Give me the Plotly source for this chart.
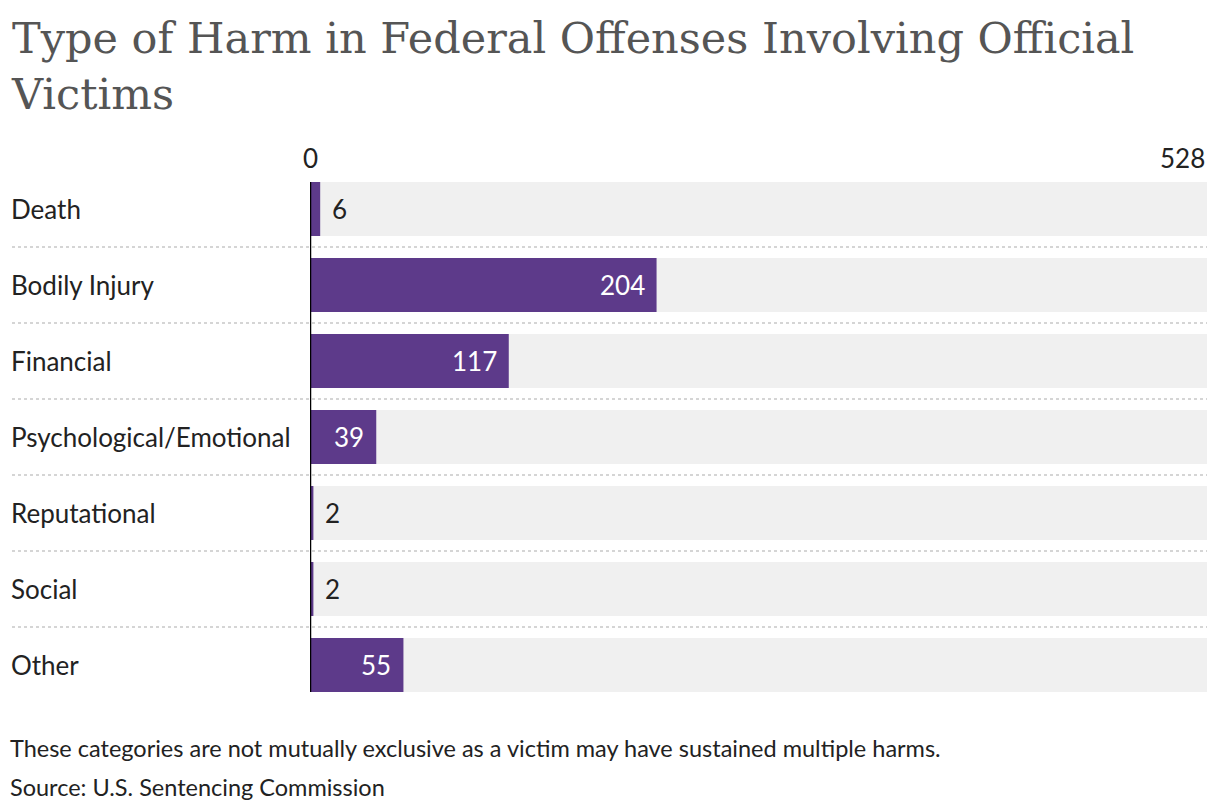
import plotly.graph_objects as go

# data
categories = ["Death", "Bodily Injury", "Financial", "Psychological/Emotional",
              "Reputational", "Social", "Other"]
values = [6, 204, 117, 39, 2, 2, 55]
axis_max = 528
tick_vals = [0, 528]

title = "Type of Harm in Federal Offenses Involving Official<br>Victims"
note = "These categories are not mutually exclusive as a victim may have sustained multiple harms."
source = "Source: U.S. Sentencing Commission"

W, H = 1220, 812
PLOT_TOP, PLOT_BOT = 182, 692
PURPLE = "#5d3a8a"
FONT = "Lato"
ys = list(range(len(categories)))


def py(p):
    # pixel row -> paper y
    return (PLOT_BOT - p) / (PLOT_BOT - PLOT_TOP)


# small bars get their label outside, bigger ones inside
inside_min = 30

fig = go.Figure()

# grey track behind each bar
fig.add_trace(go.Bar(
    x=[axis_max] * len(categories), y=ys, orientation="h",
    marker=dict(color="#f0f0f0", line=dict(width=0)),
    width=0.71, hoverinfo="skip", showlegend=False,
))

fig.add_trace(go.Bar(
    x=values, y=ys, orientation="h",
    marker=dict(color=PURPLE, line=dict(width=0)),
    width=0.71, showlegend=False,
))

# value labels
for y, v in zip(ys, values):
    inside = v >= inside_min
    fig.add_annotation(x=v, xref="x", y=y, yref="y", text=str(v), showarrow=False,
                       xanchor="right" if inside else "left",
                       xshift=-10 if inside else 10,
                       font=dict(family=FONT, size=26,
                                 color="white" if inside else "#222222"))

# category labels on the left
for y, c in zip(ys, categories):
    fig.add_annotation(x=9 / W, xref="paper", y=y, yref="y", text=c,
                       showarrow=False, xanchor="left",
                       font=dict(family=FONT, size=26, color="#222222"))

# dotted separators between rows
for y in ys[:-1]:
    fig.add_shape(type="line", xref="paper", yref="y",
                  x0=12 / W, x1=1207 / W, y0=y + 0.5, y1=y + 0.5,
                  line=dict(color="#c8c8c8", width=1.5, dash="dot"), layer="below")

# zero line
fig.add_shape(type="line", xref="x", yref="paper", x0=0, x1=0, y0=0, y1=1,
              line=dict(color="#000000", width=2.5))

# top tick labels
for v in tick_vals:
    fig.add_annotation(x=v, xref="x", y=py(158), yref="paper", text=str(v),
                       showarrow=False, yanchor="middle",
                       xanchor="right" if v == axis_max else "center",
                       font=dict(family=FONT, size=26, color="#222222"))

# title
fig.add_annotation(x=9 / W, xref="paper", y=py(11), yref="paper", text=title,
                   showarrow=False, xanchor="left", yanchor="top", align="left",
                   font=dict(family="DejaVu Serif", size=43, color="#555555"))

# footnotes
fig.add_annotation(x=8 / W, xref="paper", y=py(748), yref="paper",
                   text=note, showarrow=False, xanchor="left", yanchor="middle",
                   font=dict(family=FONT, size=23.5, color="#222222"))
fig.add_annotation(x=8 / W, xref="paper", y=py(787), yref="paper",
                   text=source, showarrow=False, xanchor="left", yanchor="middle",
                   font=dict(family=FONT, size=23.5, color="#222222"))

fig.update_layout(
    width=W, height=H,
    margin=dict(l=0, r=0, t=PLOT_TOP, b=H - PLOT_BOT),
    paper_bgcolor="white", plot_bgcolor="white",
    barmode="overlay",
    xaxis=dict(range=[0, axis_max], domain=[310 / W, 1207 / W],
               showgrid=False, zeroline=False, showticklabels=False, fixedrange=True),
    yaxis=dict(range=[6 + 27 / 76, -27 / 76], showgrid=False, zeroline=False,
               showticklabels=False, fixedrange=True),
)

fig.write_html("out.html", config={"displayModeBar": False},
               post_script="document.body.style.margin='0';")
